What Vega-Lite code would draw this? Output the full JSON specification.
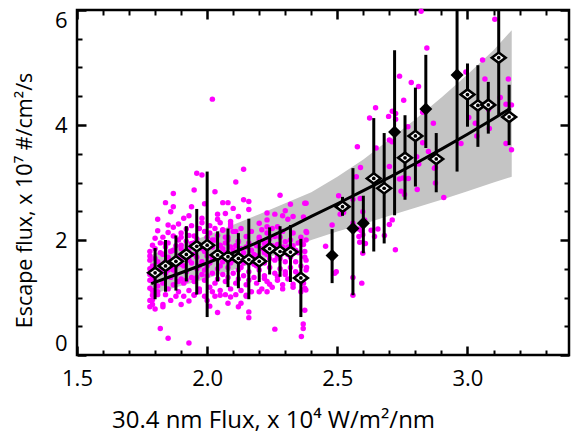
{
"$schema": "https://vega.github.io/schema/vega-lite/v6.json",
"width": 492, "height": 345,
"autosize": "none",
"padding": {"left": 77, "top": 10, "right": 5, "bottom": 79},
"background": "white",
"config": {"view": {"stroke": "black", "strokeWidth": 2.5}, "font": "Open Sans"},
"datasets": {
"scatter": [
{"x":2.822,"y":5.98},{"x":2.844,"y":5.34},{"x":2.739,"y":4.85},{"x":2.784,"y":4.74},{"x":2.812,"y":4.67},{"x":2.755,"y":4.43},{"x":2.647,"y":4.30},{"x":2.711,"y":4.24},{"x":2.724,"y":4.20},{"x":2.697,"y":4.15},{"x":2.624,"y":4.12},{"x":2.724,"y":4.10},{"x":2.828,"y":4.22},{"x":2.869,"y":4.03},{"x":2.771,"y":3.97},{"x":2.70,"y":3.74},{"x":2.71,"y":3.71},{"x":2.577,"y":3.62},{"x":2.649,"y":3.60},{"x":2.828,"y":3.69},{"x":2.805,"y":3.45},{"x":2.85,"y":3.54},{"x":2.70,"y":3.28},{"x":2.589,"y":3.26},{"x":2.877,"y":3.26},{"x":2.813,"y":3.32},{"x":2.773,"y":3.07},{"x":2.739,"y":3.06},{"x":2.752,"y":3.08},{"x":2.877,"y":2.99},{"x":2.573,"y":3.10},{"x":2.745,"y":2.85},{"x":2.758,"y":2.79},{"x":2.807,"y":2.88},{"x":2.505,"y":2.77},{"x":2.56,"y":2.71},{"x":2.588,"y":2.72},{"x":2.511,"y":2.45},{"x":2.524,"y":2.48},{"x":2.598,"y":2.49},{"x":2.605,"y":2.35},{"x":2.56,"y":2.29},{"x":2.48,"y":2.26},{"x":2.583,"y":2.19},{"x":2.592,"y":2.16},{"x":2.63,"y":2.17},{"x":2.656,"y":2.19},{"x":2.711,"y":2.35},{"x":2.70,"y":2.27},{"x":2.583,"y":2.06},{"x":2.598,"y":2.09},{"x":2.643,"y":2.06},{"x":2.681,"y":2.08},{"x":2.586,"y":1.96},{"x":2.608,"y":1.94},{"x":2.598,"y":1.77},{"x":2.723,"y":1.83},{"x":2.455,"y":1.89},{"x":2.496,"y":1.45},{"x":2.49,"y":1.42},{"x":2.56,"y":1.35},{"x":2.594,"y":1.25},{"x":2.56,"y":1.04},
{"x":3.105,"y":5.84},{"x":3.058,"y":5.13},{"x":2.994,"y":4.92},{"x":3.067,"y":4.80},{"x":3.157,"y":4.80},{"x":3.126,"y":4.48},{"x":3.148,"y":4.36},{"x":3.169,"y":4.35},{"x":3.081,"y":4.27},{"x":3.005,"y":4.13},{"x":3.03,"y":4.03},{"x":3.036,"y":3.81},{"x":3.084,"y":3.94},{"x":2.975,"y":3.68},{"x":3.148,"y":3.68},{"x":3.169,"y":3.57},{"x":2.873,"y":3.25},{"x":2.909,"y":2.74},
{"x":2.375,"y":2.64},{"x":2.382,"y":2.13},{"x":2.375,"y":1.80},{"x":2.375,"y":1.70},{"x":2.382,"y":1.52},{"x":2.369,"y":1.33},{"x":2.375,"y":1.16},{"x":2.379,"y":1.13},{"x":2.375,"y":0.78},{"x":2.369,"y":0.54},{"x":2.369,"y":0.46},{"x":2.362,"y":0.32},
{"x":1.96,"y":3.16},{"x":1.98,"y":3.13},{"x":1.87,"y":2.81},{"x":1.95,"y":2.87},{"x":2.03,"y":2.84},{"x":1.84,"y":2.65},{"x":1.87,"y":2.58},{"x":1.86,"y":2.49},{"x":1.94,"y":2.58},{"x":1.99,"y":2.63},{"x":2.06,"y":2.65},{"x":2.08,"y":2.65},{"x":1.81,"y":2.36},{"x":1.91,"y":2.38},{"x":1.93,"y":2.42},{"x":1.98,"y":2.38},{"x":2.04,"y":2.45},{"x":2.04,"y":2.36},{"x":1.85,"y":2.26},{"x":1.89,"y":2.28},{"x":1.87,"y":2.22},{"x":1.81,"y":2.16},{"x":1.85,"y":2.13},{"x":1.92,"y":2.19},{"x":2.03,"y":2.20},{"x":2.06,"y":2.17},{"x":1.80,"y":2.03},{"x":1.87,"y":2.07},{"x":1.90,"y":2.05},{"x":1.95,"y":2.07},{"x":2.01,"y":2.12},{"x":2.07,"y":2.05},{"x":1.79,"y":1.91},{"x":1.84,"y":1.94},{"x":1.90,"y":1.91},{"x":1.94,"y":1.94},{"x":2.01,"y":1.95},{"x":2.05,"y":1.91},
{"x":2.14,"y":3.23},{"x":2.11,"y":3.01},{"x":2.28,"y":2.78},{"x":2.14,"y":2.70},{"x":2.16,"y":2.67},{"x":2.38,"y":2.64},{"x":2.32,"y":2.62},{"x":2.16,"y":2.53},{"x":2.10,"y":2.55},{"x":2.23,"y":2.47},{"x":2.26,"y":2.45},{"x":2.30,"y":2.51},{"x":2.29,"y":2.42},{"x":2.33,"y":2.41},{"x":2.31,"y":2.36},{"x":2.12,"y":2.41},{"x":2.09,"y":2.32},{"x":2.07,"y":2.46},{"x":2.23,"y":2.35},{"x":2.20,"y":2.29},{"x":2.23,"y":2.23},{"x":2.27,"y":2.23},{"x":2.09,"y":2.23},{"x":2.11,"y":2.15},{"x":2.38,"y":2.15},{"x":2.15,"y":2.06},{"x":2.20,"y":2.05},{"x":2.23,"y":2.12},{"x":2.26,"y":2.06},{"x":2.08,"y":2.00},{"x":2.12,"y":1.97},{"x":2.22,"y":1.94},{"x":2.30,"y":1.97},{"x":2.36,"y":1.97},{"x":2.02,"y":4.45},
{"x":1.82,"y":0.46},{"x":1.85,"y":0.29},{"x":1.93,"y":0.21},{"x":1.78,"y":0.84},{"x":1.79,"y":0.88},{"x":1.83,"y":0.84},{"x":1.90,"y":0.88},{"x":1.93,"y":0.94},{"x":2.01,"y":0.85},{"x":2.04,"y":0.74},{"x":2.05,"y":1.04},{"x":1.95,"y":1.04},{"x":1.97,"y":1.10},{"x":2.02,"y":1.10},{"x":1.79,"y":1.04},{"x":1.81,"y":1.10},
{"x":2.26,"y":0.45},{"x":2.16,"y":0.75},{"x":2.16,"y":0.65},{"x":2.13,"y":0.90},{"x":2.12,"y":0.84},{"x":2.20,"y":1.10},{"x":2.29,"y":1.22},{"x":2.33,"y":1.23},{"x":2.08,"y":0.90},{"x":2.09,"y":1.01},{"x":2.15,"y":1.04},{"x":2.24,"y":1.23},{"x":2.22,"y":1.33},{"x":2.27,"y":1.36},{"x":2.30,"y":1.45},
{"x":1.78,"y":1.80},{"x":1.78,"y":1.65},{"x":1.78,"y":1.30},{"x":1.78,"y":1.16},{"x":1.79,"y":0.96},
{"x":1.78,"y":1.72},{"x":1.79,"y":1.55},{"x":1.78,"y":1.40},{"x":1.80,"y":1.28},{"x":1.79,"y":1.12},{"x":1.81,"y":1.62},{"x":1.80,"y":1.85},{"x":1.82,"y":1.48},{"x":1.78,"y":0.95},{"x":1.81,"y":1.05},{"x":1.82,"y":1.78},{"x":1.79,"y":1.33},{"x":1.81,"y":1.20},{"x":1.80,"y":1.68},{"x":1.82,"y":1.95},{"x":1.78,"y":1.50},{"x":1.80,"y":0.80},
{"x":1.83,"y":1.58},{"x":1.84,"y":1.42},{"x":1.85,"y":1.70},{"x":1.83,"y":1.25},{"x":1.86,"y":1.55},{"x":1.84,"y":1.88},{"x":1.85,"y":1.15},{"x":1.83,"y":1.75},{"x":1.86,"y":1.35},{"x":1.84,"y":1.05},{"x":1.85,"y":1.95},{"x":1.83,"y":2.05},{"x":1.86,"y":1.80},{"x":1.84,"y":1.62},{"x":1.85,"y":1.48},{"x":1.86,"y":0.95},{"x":1.83,"y":0.88},
{"x":1.87,"y":1.65},{"x":1.88,"y":1.40},{"x":1.89,"y":1.72},{"x":1.87,"y":1.22},{"x":1.90,"y":1.58},{"x":1.88,"y":1.90},{"x":1.89,"y":1.10},{"x":1.87,"y":1.82},{"x":1.90,"y":1.32},{"x":1.88,"y":1.55},{"x":1.89,"y":2.00},{"x":1.87,"y":1.48},{"x":1.90,"y":1.85},{"x":1.88,"y":1.02},{"x":1.89,"y":1.28},{"x":1.90,"y":2.12},
{"x":1.91,"y":1.70},{"x":1.92,"y":1.45},{"x":1.93,"y":1.85},{"x":1.91,"y":1.25},{"x":1.94,"y":1.60},{"x":1.92,"y":1.98},{"x":1.93,"y":1.12},{"x":1.91,"y":1.55},{"x":1.94,"y":1.35},{"x":1.92,"y":1.78},{"x":1.93,"y":2.08},{"x":1.91,"y":1.02},{"x":1.94,"y":1.90},{"x":1.92,"y":1.30},{"x":1.93,"y":1.65},{"x":1.94,"y":2.25},
{"x":1.95,"y":1.75},{"x":1.96,"y":1.50},{"x":1.97,"y":1.88},{"x":1.95,"y":1.28},{"x":1.98,"y":1.62},{"x":1.96,"y":2.02},{"x":1.97,"y":1.15},{"x":1.95,"y":1.95},{"x":1.98,"y":1.40},{"x":1.96,"y":1.70},{"x":1.97,"y":2.20},{"x":1.95,"y":1.05},{"x":1.98,"y":1.85},{"x":1.96,"y":1.35},{"x":1.97,"y":1.55},{"x":1.98,"y":2.30},
{"x":1.99,"y":1.80},{"x":2.00,"y":1.55},{"x":2.01,"y":1.92},{"x":1.99,"y":1.30},{"x":2.02,"y":1.68},{"x":2.00,"y":2.05},{"x":2.01,"y":1.18},{"x":1.99,"y":2.15},{"x":2.02,"y":1.42},{"x":2.00,"y":1.72},{"x":2.01,"y":2.25},{"x":1.99,"y":1.02},{"x":2.02,"y":1.88},{"x":2.00,"y":1.38},{"x":2.01,"y":1.60},{"x":2.02,"y":2.00},{"x":2.00,"y":0.95},{"x":1.99,"y":1.48},
{"x":2.03,"y":1.75},{"x":2.04,"y":1.50},{"x":2.05,"y":1.90},{"x":2.03,"y":1.25},{"x":2.06,"y":1.62},{"x":2.04,"y":2.08},{"x":2.05,"y":1.12},{"x":2.03,"y":2.00},{"x":2.06,"y":1.40},{"x":2.04,"y":1.70},{"x":2.05,"y":2.30},{"x":2.03,"y":1.02},{"x":2.06,"y":1.85},{"x":2.04,"y":1.32},{"x":2.05,"y":1.55},{"x":2.06,"y":2.18},
{"x":2.07,"y":1.78},{"x":2.08,"y":1.52},{"x":2.09,"y":1.88},{"x":2.07,"y":1.28},{"x":2.10,"y":1.65},{"x":2.08,"y":2.05},{"x":2.09,"y":1.15},{"x":2.07,"y":1.95},{"x":2.10,"y":1.42},{"x":2.08,"y":1.72},{"x":2.09,"y":2.28},{"x":2.07,"y":1.05},{"x":2.10,"y":1.82},{"x":2.08,"y":1.35},{"x":2.09,"y":1.60},{"x":2.10,"y":2.15},
{"x":2.11,"y":1.70},{"x":2.12,"y":1.48},{"x":2.13,"y":1.85},{"x":2.11,"y":1.25},{"x":2.14,"y":1.60},{"x":2.12,"y":1.98},{"x":2.13,"y":1.12},{"x":2.11,"y":1.90},{"x":2.14,"y":1.38},{"x":2.12,"y":1.65},{"x":2.13,"y":2.20},{"x":2.11,"y":1.05},{"x":2.14,"y":1.78},{"x":2.12,"y":1.32},{"x":2.13,"y":1.52},
{"x":2.15,"y":1.68},{"x":2.16,"y":1.45},{"x":2.17,"y":1.82},{"x":2.15,"y":1.22},{"x":2.18,"y":1.58},{"x":2.16,"y":1.95},{"x":2.17,"y":1.10},{"x":2.15,"y":1.88},{"x":2.18,"y":1.35},{"x":2.16,"y":1.62},{"x":2.17,"y":2.15},{"x":2.15,"y":1.02},{"x":2.18,"y":1.75},{"x":2.16,"y":1.30},
{"x":2.19,"y":1.72},{"x":2.20,"y":1.48},{"x":2.21,"y":1.85},{"x":2.19,"y":1.25},{"x":2.22,"y":1.60},{"x":2.20,"y":2.00},{"x":2.21,"y":1.15},{"x":2.19,"y":1.90},{"x":2.22,"y":1.38},{"x":2.20,"y":1.65},{"x":2.21,"y":2.18},{"x":2.19,"y":1.55},{"x":2.22,"y":1.78},
{"x":2.23,"y":1.75},{"x":2.24,"y":1.52},{"x":2.25,"y":1.90},{"x":2.23,"y":1.28},{"x":2.26,"y":1.65},{"x":2.24,"y":2.02},{"x":2.25,"y":1.18},{"x":2.23,"y":1.95},{"x":2.26,"y":1.42},{"x":2.24,"y":1.68},{"x":2.25,"y":2.20},{"x":2.23,"y":1.10},{"x":2.26,"y":1.85},
{"x":2.27,"y":1.72},{"x":2.28,"y":1.50},{"x":2.29,"y":1.88},{"x":2.27,"y":1.30},{"x":2.30,"y":1.62},{"x":2.28,"y":2.05},{"x":2.29,"y":1.15},{"x":2.27,"y":1.92},{"x":2.30,"y":1.40},{"x":2.28,"y":1.68},{"x":2.29,"y":2.15},{"x":2.30,"y":1.80},
{"x":2.31,"y":1.75},{"x":2.32,"y":1.52},{"x":2.33,"y":1.90},{"x":2.31,"y":1.32},{"x":2.34,"y":1.62},{"x":2.32,"y":2.00},{"x":2.33,"y":1.18},{"x":2.31,"y":1.88},{"x":2.34,"y":1.45},{"x":2.32,"y":1.70},{"x":2.33,"y":2.12},{"x":2.34,"y":1.82},
{"x":2.35,"y":1.78},{"x":2.36,"y":1.55},{"x":2.37,"y":1.92},{"x":2.35,"y":1.40},{"x":2.38,"y":1.65},{"x":2.36,"y":2.05},{"x":2.37,"y":1.25},{"x":2.35,"y":1.95},{"x":2.38,"y":1.48},{"x":2.36,"y":1.10},{"x":2.37,"y":2.40},{"x":2.38,"y":2.00}
],
"bins": [
{"x":1.80,"y":1.43,"lo":0.97,"hi":1.86,"f":0},{"x":1.84,"y":1.55,"lo":1.10,"hi":2.00,"f":0},{"x":1.88,"y":1.63,"lo":1.12,"hi":2.08,"f":0},{"x":1.92,"y":1.75,"lo":1.28,"hi":2.24,"f":0},{"x":1.96,"y":1.89,"lo":1.05,"hi":2.54,"f":0},{"x":2.00,"y":1.91,"lo":0.66,"hi":3.19,"f":0},{"x":2.04,"y":1.74,"lo":1.28,"hi":2.15,"f":0},{"x":2.08,"y":1.71,"lo":1.18,"hi":2.20,"f":0},{"x":2.12,"y":1.68,"lo":1.16,"hi":2.12,"f":0},{"x":2.16,"y":1.66,"lo":0.97,"hi":2.37,"f":0},{"x":2.20,"y":1.63,"lo":1.27,"hi":2.00,"f":0},{"x":2.24,"y":1.85,"lo":1.40,"hi":2.22,"f":0},{"x":2.28,"y":1.80,"lo":1.36,"hi":2.24,"f":0},{"x":2.32,"y":1.79,"lo":1.27,"hi":2.26,"f":0},{"x":2.36,"y":1.34,"lo":0.66,"hi":2.02,"f":0},
{"x":2.48,"y":1.73,"lo":1.25,"hi":2.19,"f":1},{"x":2.52,"y":2.58,"lo":2.42,"hi":2.75,"f":0},{"x":2.56,"y":2.20,"lo":1.04,"hi":3.25,"f":1},{"x":2.60,"y":2.29,"lo":1.77,"hi":2.77,"f":1},{"x":2.64,"y":3.07,"lo":1.80,"hi":4.12,"f":0},{"x":2.68,"y":2.90,"lo":1.94,"hi":3.86,"f":0},{"x":2.72,"y":3.88,"lo":2.43,"hi":5.30,"f":1},{"x":2.76,"y":3.43,"lo":2.70,"hi":4.17,"f":0},{"x":2.80,"y":3.81,"lo":2.93,"hi":4.65,"f":0},{"x":2.84,"y":4.28,"lo":3.60,"hi":5.22,"f":1},{"x":2.88,"y":3.41,"lo":2.83,"hi":3.86,"f":0},{"x":2.96,"y":4.87,"lo":3.19,"hi":6.3,"f":1},{"x":3.00,"y":4.53,"lo":3.97,"hi":5.07,"f":0},{"x":3.04,"y":4.34,"lo":3.62,"hi":5.04,"f":0},{"x":3.08,"y":4.35,"lo":3.85,"hi":4.75,"f":0},{"x":3.12,"y":5.17,"lo":4.17,"hi":6.3,"f":0},{"x":3.16,"y":4.14,"lo":3.65,"hi":4.70,"f":0}
],
"band": [
{"x":1.78,"lo":1.05,"hi":1.73},{"x":2.00,"lo":1.33,"hi":2.08},{"x":2.20,"lo":1.63,"hi":2.45},{"x":2.40,"lo":2.00,"hi":2.83},{"x":2.50,"lo":2.15,"hi":3.10},{"x":2.60,"lo":2.28,"hi":3.40},{"x":2.70,"lo":2.42,"hi":3.75},{"x":2.80,"lo":2.56,"hi":4.10},{"x":2.90,"lo":2.70,"hi":4.48},{"x":3.00,"lo":2.85,"hi":4.88},{"x":3.10,"lo":3.00,"hi":5.30},{"x":3.17,"lo":3.10,"hi":5.65}
],
"fit": [
{"x":1.785,"y":1.24},{"x":1.9,"y":1.43},{"x":2.0,"y":1.60},{"x":2.1,"y":1.78},{"x":2.2,"y":1.97},{"x":2.3,"y":2.18},{"x":2.4,"y":2.41},{"x":2.5,"y":2.63},{"x":2.6,"y":2.86},{"x":2.7,"y":3.09},{"x":2.8,"y":3.33},{"x":2.9,"y":3.58},{"x":3.0,"y":3.84},{"x":3.1,"y":4.11},{"x":3.165,"y":4.29}
]
},
"layer": [
{
"data": {"name": "band"},
"mark": {"type": "area", "color": "#c4c4c4"},
"encoding": {
"x": {"field": "x", "type": "quantitative", "scale": {"domain": [1.5, 3.39], "nice": false, "zero": false},
 "axis": {"orient": "bottom", "values": [1.5,1.6,1.7,1.8,1.9,2.0,2.1,2.2,2.3,2.4,2.5,2.6,2.7,2.8,2.9,3.0,3.1,3.2,3.3],
  "domain": false, "grid": false, "tickColor": "black",
  "tickSize": {"condition": {"test": "abs(datum.value*2-round(datum.value*2))<0.01", "value": -9}, "value": -5},
  "tickWidth": {"condition": {"test": "abs(datum.value*2-round(datum.value*2))<0.01", "value": 2.5}, "value": 2},
  "labelExpr": "abs(datum.value*2-round(datum.value*2))<0.01 ? format(datum.value, '.1f') : ''",
  "labelFlush": false, "labelOverlap": false, "labelBound": false, "labelBaseline": "alphabetic", "labelPadding": 39,
  "labelFontSize": 22, "labelColor": "black", "labelFont": "Open Sans",
  "title": "30.4 nm Flux, x 10⁴ W/m²/nm", "titleFont": "Open Sans", "titleFontSize": 24, "titleFontWeight": "normal", "titleColor": "black",
  "titleX": 196, "titleY": 72, "titleBaseline": "alphabetic", "titleAlign": "center"}},
"y": {"field": "lo", "type": "quantitative", "scale": {"domain": [0, 6], "nice": false, "zero": false},
 "axis": {"orient": "left", "values": [0,0.5,1,1.5,2,2.5,3,3.5,4,4.5,5,5.5,6],
  "domain": false, "grid": false, "tickColor": "black",
  "tickSize": {"condition": {"test": "abs(datum.value/2-round(datum.value/2))<0.01", "value": -9}, "value": -5},
  "tickWidth": {"condition": {"test": "abs(datum.value/2-round(datum.value/2))<0.01", "value": 2.5}, "value": 2},
  "labelExpr": "abs(datum.value/2-round(datum.value/2))<0.01 ? format(datum.value, 'd') : ''",
  "labelFlush": true, "labelOverlap": false, "labelBound": false, "labelPadding": 19,
  "labelFontSize": 22, "labelColor": "black", "labelFont": "Open Sans",
  "title": "Escape flux, x 10⁷ #/cm²/s", "titleFont": "Open Sans", "titleFontSize": 21.5, "titleFontWeight": "normal", "titleColor": "black",
  "titleX": -46, "titleY": 190, "titleBaseline": "alphabetic", "titleAlign": "center", "titleAngle": 270}},
"y2": {"field": "hi"}
}
},
{
"data": {"name": "scatter"},
"mark": {"type": "circle", "color": "#ff00ff", "size": 30, "opacity": 1},
"encoding": {
"x": {"field": "x", "type": "quantitative", "scale": {"domain": [1.5, 3.39], "nice": false, "zero": false},
 "axis": {"orient": "top", "values": [1.5,1.6,1.7,1.8,1.9,2.0,2.1,2.2,2.3,2.4,2.5,2.6,2.7,2.8,2.9,3.0,3.1,3.2,3.3],
  "domain": false, "grid": false, "labels": false, "title": null, "tickColor": "black",
  "tickSize": {"condition": {"test": "abs(datum.value*2-round(datum.value*2))<0.01", "value": -9}, "value": -5},
  "tickWidth": {"condition": {"test": "abs(datum.value*2-round(datum.value*2))<0.01", "value": 2.5}, "value": 2}}},
"y": {"field": "y", "type": "quantitative", "scale": {"domain": [0, 6], "nice": false, "zero": false},
 "axis": {"orient": "right", "values": [0,0.5,1,1.5,2,2.5,3,3.5,4,4.5,5,5.5,6],
  "domain": false, "grid": false, "labels": false, "title": null, "tickColor": "black",
  "tickSize": {"condition": {"test": "abs(datum.value/2-round(datum.value/2))<0.01", "value": -9}, "value": -5},
  "tickWidth": {"condition": {"test": "abs(datum.value/2-round(datum.value/2))<0.01", "value": 2.5}, "value": 2}}}
}
},
{
"data": {"name": "fit"},
"mark": {"type": "line", "color": "black", "strokeWidth": 3},
"encoding": {
"x": {"field": "x", "type": "quantitative", "scale": {"domain": [1.5, 3.39], "nice": false, "zero": false}, "axis": null},
"y": {"field": "y", "type": "quantitative", "scale": {"domain": [0, 6], "nice": false, "zero": false}, "axis": null}
}
},
{
"data": {"name": "bins"},
"mark": {"type": "rule", "color": "black", "strokeWidth": 3, "clip": true},
"encoding": {
"x": {"field": "x", "type": "quantitative", "scale": {"domain": [1.5, 3.39], "nice": false, "zero": false}, "axis": null},
"y": {"field": "lo", "type": "quantitative", "scale": {"domain": [0, 6], "nice": false, "zero": false}, "axis": null},
"y2": {"field": "hi"}
}
},
{
"data": {"name": "bins"},
"transform": [{"filter": "datum.f == 1"}],
"mark": {"type": "point", "shape": "diamond", "filled": true, "color": "black", "size": 170, "opacity": 1},
"encoding": {
"x": {"field": "x", "type": "quantitative", "scale": {"domain": [1.5, 3.39], "nice": false, "zero": false}, "axis": null},
"y": {"field": "y", "type": "quantitative", "scale": {"domain": [0, 6], "nice": false, "zero": false}, "axis": null}
}
},
{
"data": {"name": "bins"},
"transform": [{"filter": "datum.f == 0"}],
"mark": {"type": "point", "shape": "M-1,0L0,-0.75L1,0L0,0.75Z", "filled": false, "fill": "white", "fillOpacity": 1, "stroke": "black", "strokeWidth": 2.6, "size": 190, "opacity": 1},
"encoding": {
"x": {"field": "x", "type": "quantitative", "scale": {"domain": [1.5, 3.39], "nice": false, "zero": false}, "axis": null},
"y": {"field": "y", "type": "quantitative", "scale": {"domain": [0, 6], "nice": false, "zero": false}, "axis": null}
}
},
{
"data": {"name": "bins"},
"transform": [{"filter": "datum.f == 0"}],
"mark": {"type": "circle", "color": "black", "size": 14, "opacity": 1},
"encoding": {
"x": {"field": "x", "type": "quantitative", "scale": {"domain": [1.5, 3.39], "nice": false, "zero": false}, "axis": null},
"y": {"field": "y", "type": "quantitative", "scale": {"domain": [0, 6], "nice": false, "zero": false}, "axis": null}
}
}
],
"resolve": {"axis": {"x": "independent", "y": "independent"}}
}
